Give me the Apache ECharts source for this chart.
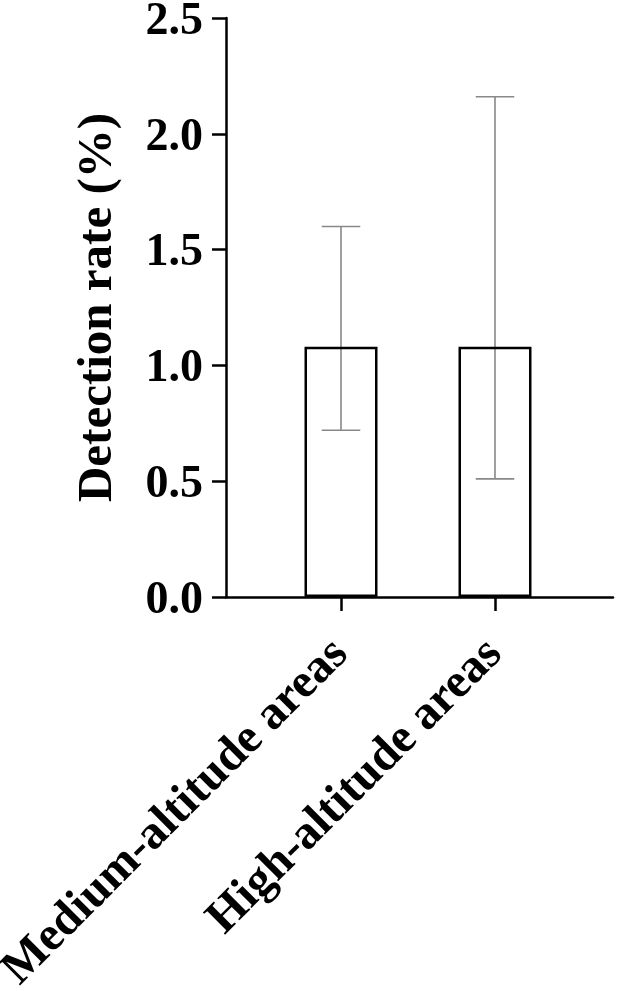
<!DOCTYPE html>
<html>
<head>
<meta charset="utf-8">
<script src="https://cdn.jsdelivr.net/npm/echarts@6/dist/echarts.min.js"></script>
<style>
html,body{margin:0;padding:0;background:#fff;}
#chart{width:617px;height:991px;}
</style>
</head>
<body>
<div id="chart"></div>
<script>
// ---- data ----
var categories = ['Medium-altitude areas', 'High-altitude areas'];
var means = [1.08, 1.08];
var errLow = [0.72, 0.51];
var errHigh = [1.60, 2.16];
var yTicks = [0, 0.5, 1.0, 1.5, 2.0, 2.5];
var yTitle = 'Detection rate (%)';

var FONT = '"Liberation Serif", "Times New Roman", serif';
var chart = echarts.init(document.getElementById('chart'));

var errData = categories.map(function (c, i) { return [i, errLow[i], errHigh[i]]; });

chart.setOption({
  animation: false,
  backgroundColor: '#fff',
  grid: [
    { left: 264, right: 45, top: 18, bottom: 394, containLabel: false, outerBoundsMode: 'none' },
    { left: 226, right: 4, top: 18, bottom: 394, containLabel: false, outerBoundsMode: 'none' }
  ],
  xAxis: [
    {
      gridIndex: 0, type: 'category', data: categories,
      axisLine: { show: false },
      axisTick: { show: true, alignWithLabel: true, length: 14, lineStyle: { color: '#000', width: 2.5 } },
      axisLabel: { rotate: 45, margin: 50, color: '#000', fontFamily: FONT, fontWeight: 'bold', fontSize: 48, interval: 0 },
      splitLine: { show: false }
    },
    {
      gridIndex: 1, type: 'value', min: 0, max: 1,
      axisLine: { show: true, onZero: false, lineStyle: { color: '#000', width: 2.5 } },
      axisTick: { show: false }, axisLabel: { show: false }, splitLine: { show: false }
    }
  ],
  yAxis: [
    {
      gridIndex: 0, type: 'value', min: yTicks[0], max: yTicks[yTicks.length - 1], interval: 0.5,
      show: false
    },
    {
      gridIndex: 1, type: 'value', min: yTicks[0], max: yTicks[yTicks.length - 1], interval: 0.5,
      name: yTitle, nameLocation: 'middle', nameGap: 103,
      nameTextStyle: { color: '#000', fontFamily: FONT, fontWeight: 'bold', fontSize: 49 },
      axisLine: { show: true, onZero: false, lineStyle: { color: '#000', width: 2.5 } },
      axisTick: { show: true, length: 14, lineStyle: { color: '#000', width: 2.5 } },
      axisLabel: { margin: 23, color: '#000', fontFamily: FONT, fontWeight: 'bold', fontSize: 46,
        formatter: function (v) { return '{v|' + v.toFixed(1) + '}'; },
        rich: { v: { color: '#000', fontFamily: FONT, fontWeight: 'bold', fontSize: 46, lineHeight: 46, padding: [8, 0, 0, 0] } } },
      splitLine: { show: false }
    }
  ],
  series: [
    {
      type: 'custom', xAxisIndex: 0, yAxisIndex: 0, z: 1,
      data: errData,
      renderItem: function (params, api) {
        var x = api.value(0);
        var lo = api.coord([x, api.value(1)]);
        var hi = api.coord([x, api.value(2)]);
        var hw = api.size([1, 0])[0] * 0.125;
        var st = { stroke: '#888', lineWidth: 1.6 };
        return {
          type: 'group',
          children: [
            { type: 'line', shape: { x1: lo[0], y1: lo[1], x2: hi[0], y2: hi[1] }, style: st },
            { type: 'line', shape: { x1: hi[0] - hw, y1: hi[1], x2: hi[0] + hw, y2: hi[1] }, style: st },
            { type: 'line', shape: { x1: lo[0] - hw, y1: lo[1], x2: lo[0] + hw, y2: lo[1] }, style: st }
          ]
        };
      }
    },
    {
      type: 'bar', xAxisIndex: 0, yAxisIndex: 0, z: 2,
      data: means, barWidth: 73,
      itemStyle: { color: 'rgba(255,255,255,0)', borderColor: '#000', borderWidth: 2.5 }
    }
  ]
});
</script>
</body>
</html>
